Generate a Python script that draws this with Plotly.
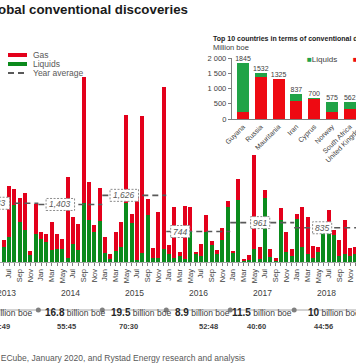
import plotly.graph_objects as go

# ---------------- data ----------------
MONTH_ABBR = ["Jan", "Feb", "Mar", "Apr", "May", "Jun", "Jul", "Aug", "Sep", "Oct", "Nov", "Dec"]
FIRST_MONTH_INDEX = 5  # Jun 2013 (Jan 2013 = 0)

# monthly discoveries, million boe (Jun 2013 .. Dec 2018)
LIQUIDS = [373, 617, 1390, 983, 780, 171, 683,
           561, 495, 293, 317, 317, 98, 439, 293, 1439, 1024, 739, 1007,
           220, 73, 276, 366, 1439, 959, 49, 220, 1146, 98, 98, 317,
           200, 100, 146, 66, 720, 188, 146, 739, 415, 195, 537, 1341,
           212, 1524, 20, 60, 310, 66, 1554, 115, 20, 1024, 251, 146,
           1049, 359, 195, 90, 251, 750, 798, 659, 146, 195, 146, 200]
GAS = [164, 1244, 390, 578, 903, 105, 732,
       171, 188, 683, 366, 244, 1982, 659, 634, 3073, 927, 156, 798,
       397, 122, 456, 617, 2146, 212, 1512, 3341, 391, 243, 1122, 3951,
       215, 1241, 98, 1300, 621, 56, 293, 407, 97, 98, 285, 135,
       64, 493, 46, 100, 2300, 293, 202, 195, 70, 286, 488, 178,
       122, 975, 910, 300, 108, 0, 470, 121, 391, 829, 188, 173]

YEARS = ["2013", "2014", "2015", "2016", "2017", "2018"]
YEAR_TOTAL_BN = ["17.2", "16.8", "19.5", "8.9", "11.5", "10"]
YEAR_AVG = [1433, 1403, 1626, 744, 961, 835]
GAS_LIQ_RATIO = ["51:49", "55:45", "70:30", "52:48", "40:60", "44:56"]

INSET_COUNTRIES = ["Guyana", "Russia", "Mauritania", "Iran", "Cyprus", "Norway", "South Africa"]
INSET_GAS = [240, 1400, 1325, 600, 660, 240, 330]
INSET_LIQ = [1605, 132, 0, 237, 40, 335, 232]

# ---------------- styling ----------------
RED = "#e3001b"
GREEN = "#0b8a1c"
INSET_GREEN = "#21a347"
INSET_RED = "#ee0a12"
DARK = "#404040"
GRAY = "#595959"
FONT = "Liberation Sans, Arial, sans-serif"
W, H = 356, 364


def py(px):
    return 1 - px / H


def pxx(px):
    return px / W


xs = [FIRST_MONTH_INDEX + i for i in range(len(LIQUIDS))]
ticktext = [MONTH_ABBR[m % 12] if (m % 12) % 2 == 0 else "" for m in xs]

fig = go.Figure()

fig.add_trace(go.Bar(x=xs, y=LIQUIDS, marker=dict(color=GREEN, line=dict(width=0)), width=0.75,
                     name="Liquids", showlegend=False, xaxis="x", yaxis="y"))
fig.add_trace(go.Bar(x=xs, y=GAS, marker=dict(color=RED, line=dict(width=0)), width=0.75,
                     name="Gas", showlegend=False, xaxis="x", yaxis="y"))

# year average lines
avg_x, avg_y = [], []
for j, v in enumerate(YEAR_AVG):
    avg_x += [12 * j - 0.5, 12 * j + 11.5, None]
    avg_y += [v, v, None]
fig.add_trace(go.Scatter(x=avg_x, y=avg_y, mode="lines", showlegend=False,
                         line=dict(color=GRAY, width=1.6, dash="6px,4px"),
                         xaxis="x", yaxis="y", hoverinfo="skip"))

# timeline markers at year boundaries
bounds = [12 * j - 0.5 for j in range(1, len(YEARS))]
fig.add_trace(go.Scatter(x=bounds, y=[0] * len(bounds), mode="markers", showlegend=False,
                         marker=dict(color="#7f7f7f", size=5), xaxis="x", yaxis="y3",
                         hoverinfo="skip"))

# inset bars
fig.add_trace(go.Bar(x=INSET_COUNTRIES, y=INSET_GAS, marker=dict(color=INSET_RED, line=dict(width=0)),
                     width=0.67, showlegend=False, xaxis="x2", yaxis="y2"))
fig.add_trace(go.Bar(x=INSET_COUNTRIES, y=INSET_LIQ, marker=dict(color=INSET_GREEN, line=dict(width=0)),
                     width=0.67, showlegend=False, xaxis="x2", yaxis="y2"))
totals = [g + l for g, l in zip(INSET_GAS, INSET_LIQ)]
fig.add_trace(go.Scatter(x=INSET_COUNTRIES, y=totals, text=[str(t) for t in totals],
                         mode="text", textposition="top center", showlegend=False,
                         textfont=dict(size=7, color=DARK, family=FONT),
                         cliponaxis=False, xaxis="x2", yaxis="y2", hoverinfo="skip"))

ann = []
shapes = []
box_shift = [-11, -10, -10, -18, -2, -4]
tot_shift = [-4, 5, 7, 4, 0, 8]
rat_shift = [-6, -4, -6, 10, -6, -3]
for j, yr in enumerate(YEARS):
    cx = 12 * j + 5.5
    ann.append(dict(x=cx, xref="x", y=py(299.5), yref="paper", text=yr, showarrow=False,
                    font=dict(size=8.5, color=DARK, family=FONT)))
    ann.append(dict(x=cx, xref="x", y=py(319.5), yref="paper", xshift=tot_shift[j],
                    text="<b><span style='font-size:10px;color:#262626'>%s</span></b> billion boe" % YEAR_TOTAL_BN[j],
                    showarrow=False, font=dict(size=8.5, color=DARK, family=FONT)))
    ann.append(dict(x=cx, xref="x", y=py(332.5), yref="paper", xshift=rat_shift[j],
                    text="<b>%s</b>" % GAS_LIQ_RATIO[j], showarrow=False,
                    font=dict(size=7.5, color=DARK, family=FONT)))
    label = "{:,}".format(YEAR_AVG[j])
    hw = len(label) * 2.35 + 2.5
    shapes.append(dict(type="rect", xref="x", yref="y", xsizemode="pixel", ysizemode="pixel",
                       xanchor=cx, yanchor=YEAR_AVG[j], x0=box_shift[j] - hw, x1=box_shift[j] + hw,
                       y0=-6, y1=6, fillcolor="white", line=dict(color="#8c8c8c", width=1, dash="2px,1.5px"),
                       layer="above"))
    ann.append(dict(x=cx, xref="x", y=YEAR_AVG[j], yref="y", xshift=box_shift[j],
                    text="<i>%s</i>" % label, showarrow=False,
                    font=dict(size=8.5, color=GRAY, family=FONT)))

# title, source
ann.append(dict(x=pxx(190), y=py(9), xref="paper", yref="paper", xanchor="right", yanchor="middle",
                text="<b>Global conventional discoveries</b>", showarrow=False,
                font=dict(size=13.3, color="#1a1a1a", family=FONT)))
ann.append(dict(x=pxx(247), y=py(357.5), xref="paper", yref="paper", xanchor="right", yanchor="middle",
                text="Source: Rystad Energy ECube, January 2020, and Rystad Energy research and analysis",
                showarrow=False, font=dict(size=8.5, color=GRAY, family=FONT)))

# main legend (manual)
leg = [("Gas", RED, "solid", 4, 55), ("Liquids", GREEN, "solid", 4, 64), ("Year average", GRAY, "6px,4px", 2, 73)]
for name, col, dash, wdt, ypx in leg:
    shapes.append(dict(type="line", xref="paper", yref="paper", x0=pxx(8), x1=pxx(27),
                       y0=py(ypx), y1=py(ypx), line=dict(color=col, width=wdt, dash=dash)))
    ann.append(dict(x=pxx(31), y=py(ypx), xref="paper", yref="paper", xanchor="left", yanchor="middle",
                    text=name, showarrow=False, font=dict(size=8.5, color=GRAY, family=FONT)))

# timeline line
shapes.append(dict(type="line", xref="paper", yref="paper", x0=0, x1=1, y0=py(310), y1=py(310),
                   line=dict(color="#a6a6a6", width=1), layer="below"))

# inset texts
ann.append(dict(x=pxx(211), y=py(39), xref="paper", yref="paper", xanchor="left", yanchor="middle",
                text="<b>Top 10 countries in terms of conventional discoveries</b>", showarrow=False,
                font=dict(size=7, color="#1a1a1a", family=FONT)))
ann.append(dict(x=pxx(211), y=py(48), xref="paper", yref="paper", xanchor="left", yanchor="middle",
                text="Million boe", showarrow=False, font=dict(size=7.5, color=DARK, family=FONT)))
ann.append(dict(x=pxx(305), y=py(60), xref="paper", yref="paper", xanchor="left", yanchor="middle",
                text="<span style='color:%s'>■</span>Liquids" % INSET_GREEN, showarrow=False,
                font=dict(size=8, color=DARK, family=FONT)))
ann.append(dict(x=pxx(351), y=py(60), xref="paper", yref="paper", xanchor="left", yanchor="middle",
                text="<span style='color:%s'>■</span>Gas" % INSET_RED, showarrow=False,
                font=dict(size=8, color=DARK, family=FONT)))
ann.append(dict(x=pxx(368), y=py(121), xref="paper", yref="paper", xanchor="right", yanchor="top",
                text="United Kingdom", textangle=-45, showarrow=False,
                font=dict(size=7, color=DARK, family=FONT)))

fig.update_layout(
    template="none",
    width=W, height=H, margin=dict(l=0, r=0, t=0, b=0, pad=0),
    paper_bgcolor="white", plot_bgcolor="rgba(0,0,0,0)",
    barmode="stack", separators=". ", showlegend=False,
    font=dict(family=FONT, color=DARK),
    xaxis=dict(domain=[0, 1], range=[4.306, 71.1], anchor="y", tickvals=xs, ticktext=ticktext,
               tickangle=-90, tickfont=dict(size=7.5, color=DARK), ticks="outside", ticklen=3,
               tickcolor="#7f7f7f", showline=True, linecolor="#a6a6a6", showgrid=False,
               zeroline=False, automargin=False),
    yaxis=dict(domain=[py(262), py(50)], range=[0, 212 / 0.041], visible=False, showgrid=False,
               automargin=False),
    yaxis3=dict(domain=[py(315), py(305)], range=[-1, 1], visible=False, anchor="x", automargin=False),
    xaxis2=dict(domain=[pxx(231.8), 1], range=[-0.63, 6.35], anchor="y2", tickangle=-45,
                tickfont=dict(size=7, color=DARK), showline=True, linecolor="#7f7f7f",
                showgrid=False, ticks="", automargin=False),
    yaxis2=dict(domain=[py(119), py(58.3)], range=[0, 2000], anchor="x2",
                tickvals=[0, 500, 1000, 1500, 2000], tickformat=",d", tickfont=dict(size=7.5, color=DARK),
                showline=True, linecolor="#7f7f7f", ticks="outside", ticklen=3, tickcolor="#7f7f7f",
                showgrid=False, zeroline=False, automargin=False),
    annotations=ann, shapes=shapes,
)

fig.write_html("out.html", config={"displayModeBar": False, "staticPlot": True},
               post_script="document.body.style.margin='0px';")
